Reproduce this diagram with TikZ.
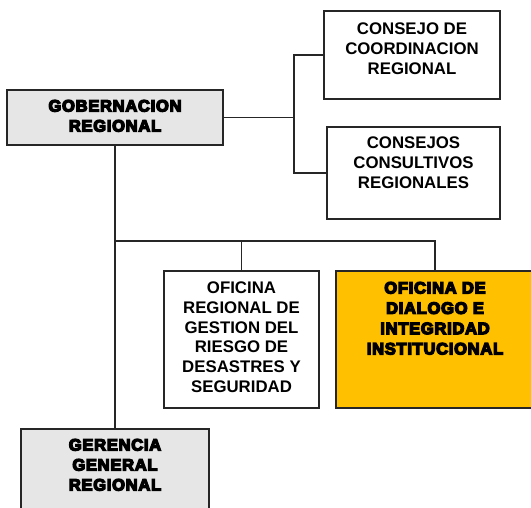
\documentclass[tikz,border=0pt]{standalone}
\usepackage{fontspec}
\setmainfont{Liberation Sans}
\newfontfamily\heavy[FakeBold=8,LetterSpace=4.5]{Liberation Sans Bold}
\definecolor{boxgray}{HTML}{E6E6E6}
\definecolor{boxorange}{HTML}{FFC000}
\newcommand{\boxtext}[3]{\parbox[c][#2pt][t]{#1pt}{\centering\vspace*{10pt}#3\par}}
\tikzset{
  orgbox/.style={draw=black!85, line width=1.4pt, inner sep=0pt, outer sep=0pt, fill=white,
    font=\fontsize{16.8}{19.7}\selectfont\bfseries},
  grayb/.style={orgbox, fill=boxgray, font=\fontsize{16.5}{20}\selectfont\heavy},
  orangeb/.style={orgbox, fill=boxorange, font=\fontsize{16.5}{20.3}\selectfont\heavy},
  link/.style={draw=black!85, line width=1.4pt}
}
\begin{document}
\begin{tikzpicture}[x=1pt,y=-1pt]
\useasboundingbox[fill=white] (0,0) rectangle (531,507);
\node[grayb] (gob) at (115,117.5) {\boxtext{216}{55}{GOBERNACION\\REGIONAL}};
\node[orgbox] (ccr) at (412,55) {\boxtext{176}{88}{\vspace*{2pt}CONSEJO DE\\COORDINACION\\REGIONAL}};
\node[orgbox] (ccons) at (413.5,173) {\boxtext{173}{92}{CONSEJOS\\CONSULTIVOS\\REGIONALES}};
\node[orgbox] (ofr) at (241.5,339.5) {\boxtext{155}{137}{\vspace*{1pt}OFICINA\\REGIONAL DE\\GESTION DEL\\RIESGO DE\\DESASTRES Y\\SEGURIDAD}};
\node[orangeb] (odi) at (435,339.5) {\boxtext{198}{137}{\vspace*{1pt}OFICINA DE\\DIALOGO E\\INTEGRIDAD\\INSTITUCIONAL}};
\node[grayb] (ger) at (115,472) {\boxtext{188}{86}{GERENCIA\\GENERAL\\REGIONAL}};
\coordinate (j1) at (294,117.5);
\coordinate (j2) at (115,241);
\draw[link] (gob.east) -- (j1);
\draw[link] (ccr.west) -| (j1) |- (ccons.west);
\draw[link] (gob.south) -- (ger.north);
\draw[link] (j2) -| (ofr.north);
\draw[link] (j2) -| (odi.north);
\end{tikzpicture}
\end{document}
